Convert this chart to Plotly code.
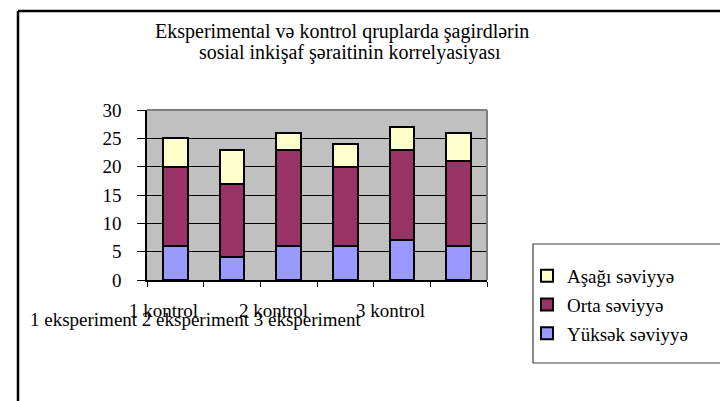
import plotly.graph_objects as go

categories = ["1 eksperiment", "1 kontrol", "2 eksperiment", "2 kontrol", "3 eksperiment", "3 kontrol"]
yuksek = [6, 4, 6, 6, 7, 6]
orta = [14, 13, 17, 14, 16, 15]
asagi = [5, 6, 3, 4, 4, 5]
y_ticks = [0, 5, 10, 15, 20, 25, 30]

# the page adds an 8px body margin, so the figure is 8px smaller and positions are in page pixels
OFF = 8
W, H = 728 - OFF, 401 - OFF
L, R, T, B = 147 - OFF, 487 - OFF, 110 - OFF, 280 - OFF


def px(xp):  # page pixel -> paper x
    return (xp - OFF - L) / (R - L)


def py(yp):  # page pixel -> paper y
    return (B - (yp - OFF)) / (B - T)


FONT = "Liberation Serif"
FS = 19

fig = go.Figure()
series = [
    ("Yüksək səviyyə", yuksek, "#9999FF", 3),
    ("Orta səviyyə", orta, "#993366", 2),
    ("Aşağı səviyyə", asagi, "#FFFFCC", 1),
]
for name, vals, col, rank in series:
    fig.add_trace(go.Bar(
        x=categories, y=vals, name=name, legendgroup=name, legendrank=rank,
        marker=dict(color=col, line=dict(color="black", width=2)),
    ))

shapes = [
    dict(type="line", xref="paper", yref="paper", x0=px(18), x1=px(760), y0=py(11), y1=py(11),
         line=dict(color="black", width=2.5)),
    dict(type="line", xref="paper", yref="paper", x0=px(18), x1=px(18), y0=py(11), y1=py(420),
         line=dict(color="black", width=2.5)),
    dict(type="line", xref="paper", yref="paper", x0=0, x1=1, y0=1, y1=1,
         line=dict(color="#808080", width=2)),
    dict(type="line", xref="paper", yref="paper", x0=1, x1=1, y0=0, y1=1,
         line=dict(color="#808080", width=2)),
    dict(type="rect", xref="paper", yref="paper", x0=px(533), x1=px(760), y0=py(244), y1=py(363),
         line=dict(color="#404040", width=1.2), fillcolor="rgba(0,0,0,0)"),
]

annotations = [
    dict(text="Eksperimental və kontrol qruplarda şagirdlərin", x=px(342), y=py(31),
         xref="paper", yref="paper", showarrow=False, xanchor="center", yanchor="middle",
         font=dict(family=FONT, size=20, color="black")),
    dict(text="sosial inkişaf şəraitinin korrelyasiyası", x=px(350), y=py(52),
         xref="paper", yref="paper", showarrow=False, xanchor="center", yanchor="middle",
         font=dict(family=FONT, size=20, color="black")),
]
kontrol_pos = [163, 273, 390]
for lab, xp in zip([c for c in categories if "kontrol" in c], kontrol_pos):
    annotations.append(dict(text=lab, x=px(xp), y=py(310), xref="paper", yref="paper",
                            showarrow=False, xanchor="center", yanchor="middle",
                            font=dict(family=FONT, size=FS, color="black")))
annotations.append(dict(text=" ".join([c for c in categories if "eksperiment" in c]),
                        x=px(28), y=py(319), xref="paper", yref="paper",
                        showarrow=False, xanchor="left", yanchor="middle",
                        font=dict(family=FONT, size=FS, color="black")))

fig.update_layout(
    width=W, height=H,
    margin=dict(l=L, r=W - R, t=T, b=H - B, pad=0),
    paper_bgcolor="white", plot_bgcolor="#C0C0C0",
    barmode="stack", bargap=0.56,
    font=dict(family=FONT, size=FS, color="black"),
    showlegend=True,
    legend=dict(x=px(527), y=py(257), xref="paper", yref="paper", xanchor="left", yanchor="top",
                traceorder="grouped", tracegroupgap=1, bgcolor="rgba(0,0,0,0)",
                font=dict(family=FONT, size=FS, color="black"), itemwidth=30),
    xaxis=dict(showticklabels=False, ticks="outside", ticklen=5, tickcolor="black",
               tickson="boundaries", showline=True, linecolor="black", linewidth=1.5,
               showgrid=False, zeroline=False),
    yaxis=dict(range=[0, 30], tickvals=y_ticks, ticks="outside", ticklen=8, tickcolor="black",
               ticklabelstandoff=12,
               showline=True, linecolor="black", linewidth=1.5, showgrid=True,
               gridcolor="black", gridwidth=1, zeroline=False,
               tickfont=dict(family=FONT, size=FS, color="black")),
    shapes=shapes, annotations=annotations,
)
fig.write_html("out.html")
